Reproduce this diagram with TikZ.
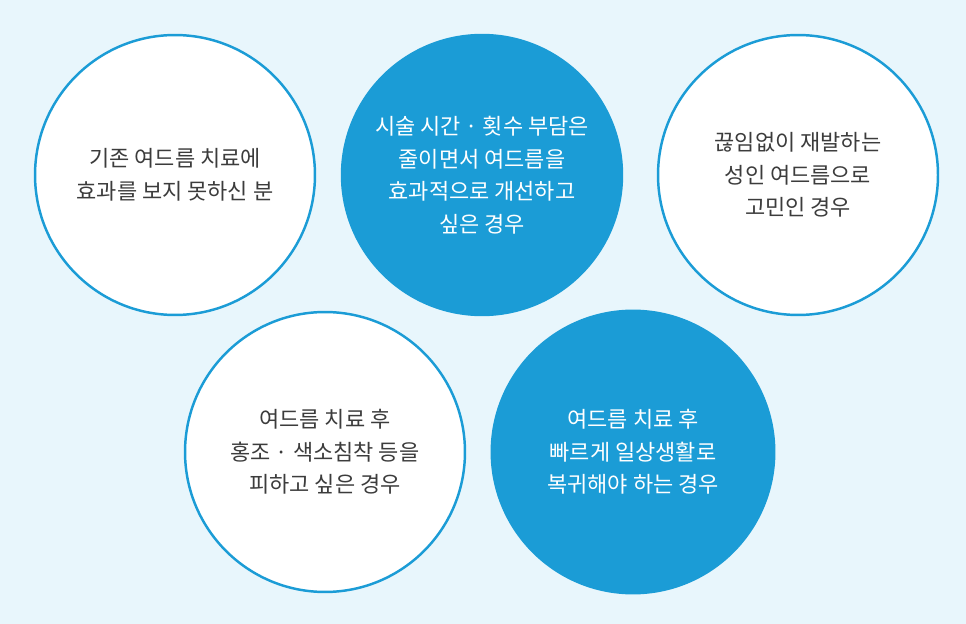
\documentclass[tikz,border=0pt]{standalone}
\usepackage{fontspec}
\setmainfont{Noto Sans CJK KR}
\definecolor{bgblue}{RGB}{232,246,252}
\definecolor{cblue}{RGB}{27,156,214}
\definecolor{txtgray}{RGB}{60,60,60}
\tikzset{
  caseopen/.style={circle, draw=cblue, line width=1.4pt, fill=white, minimum size=7.9cm/1.4142*1.4142*0.71, text=txtgray, align=center, font=\fontsize{12.5}{18.5}\selectfont},
  casefull/.style={caseopen, fill=cblue, text=white}
}
\begin{document}
\begin{tikzpicture}[x=0.02cm, y=-0.02cm]
	\fill[bgblue] (0,0) rectangle (966,624);
	\node[caseopen, minimum size=5.6cm] (c1) at (175,175) {기존 여드름 치료에\\효과를 보지 못하신 분};
	\node[casefull, minimum size=5.6cm] (c2) at (482,175) {시술 시간 · 횟수 부담은\\줄이면서 여드름을\\효과적으로 개선하고\\싶은 경우};
	\node[caseopen, minimum size=5.6cm] (c3) at (798,175) {끊임없이 재발하는\\성인 여드름으로\\고민인 경우};
	\node[caseopen, minimum size=5.6cm] (c4) at (325,452) {여드름 치료 후\\홍조 · 색소침착 등을\\피하고 싶은 경우};
	\node[casefull, minimum size=5.65cm] (c5) at (633,452) {여드름 치료 후\\빠르게 일상생활로\\복귀해야 하는 경우};
\end{tikzpicture}
\end{document}
